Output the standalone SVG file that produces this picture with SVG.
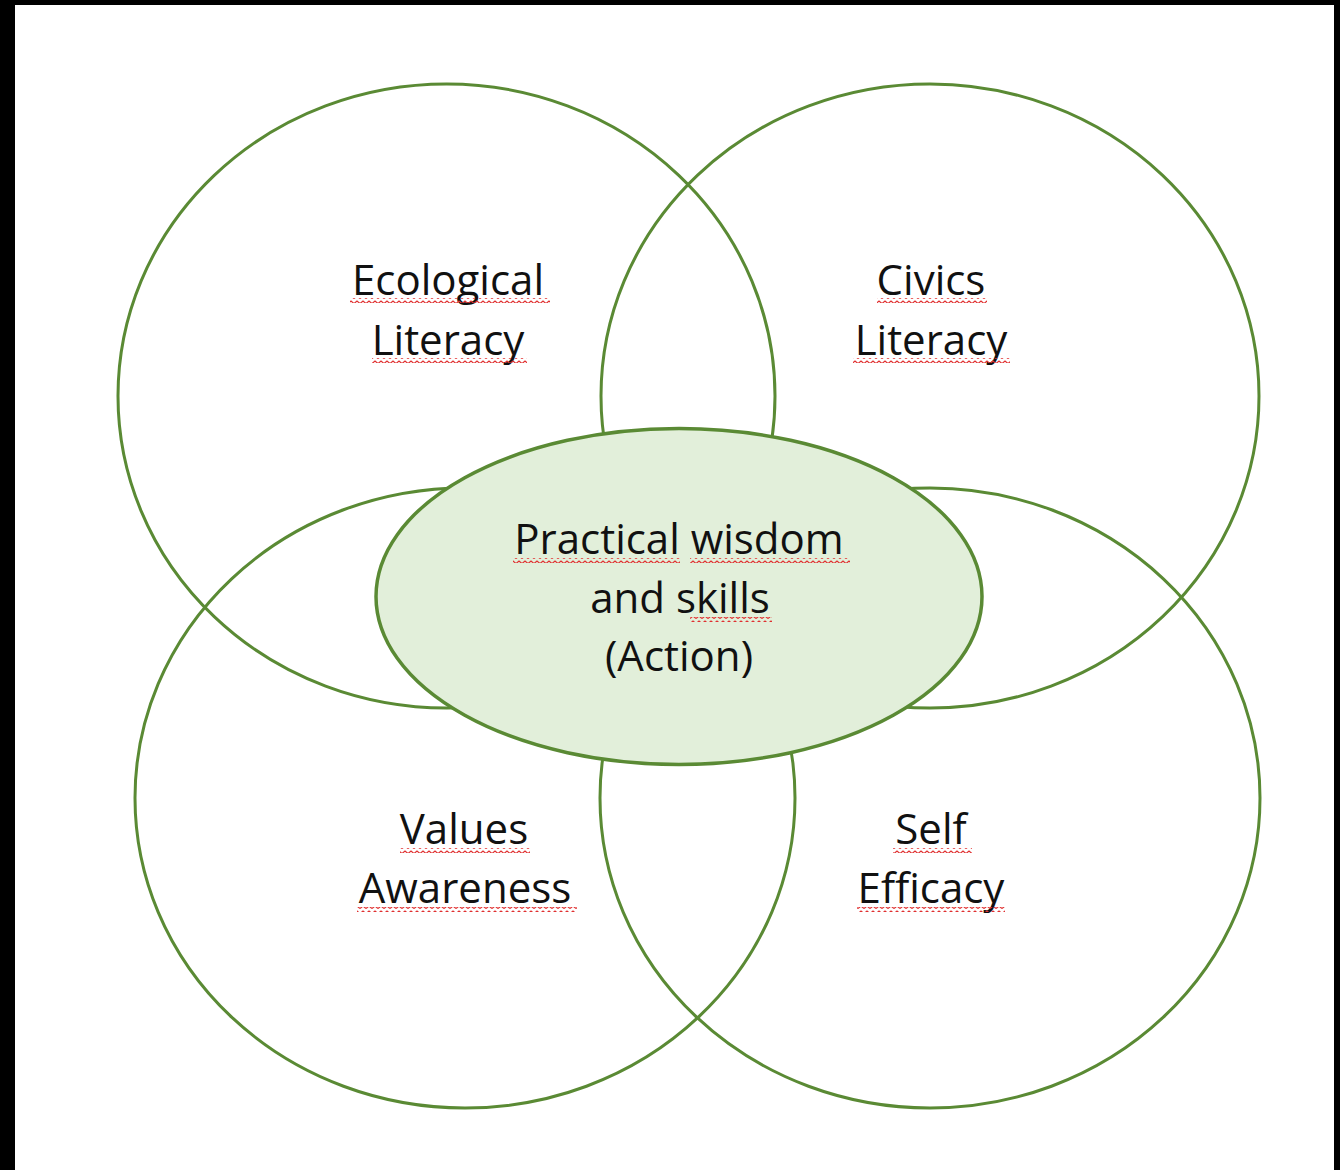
<svg xmlns="http://www.w3.org/2000/svg" width="1340" height="1170" viewBox="0 0 1340 1170">
<defs>
<style>
.ring{fill:none;stroke:#5A8A34;stroke-width:3}
.core{fill:#E2EFDA;stroke:#5A8A34;stroke-width:3.5}
.lbl{font-family:"Open Sans","Liberation Sans",sans-serif;font-size:42px;fill:#111;text-anchor:middle}
.sq{fill:url(#wave)}
</style>
<pattern id="wave" patternUnits="userSpaceOnUse" width="6" height="5">
<path d="M0 3.5 L3 1 L6 3.5" fill="none" stroke="#E03030" stroke-width="1.2"/>
</pattern>
</defs>
<rect x="0" y="0" width="1340" height="1170" fill="#000"/>
<rect x="15" y="5" width="1319" height="1165" fill="#fff"/>
<g id="connectors"></g>
<g id="ecological">
<ellipse class="ring" cx="446.5" cy="396" rx="328.5" ry="312"/>
<text class="lbl" x="448" y="295">Ecological</text>
<text class="lbl" x="448" y="355">Literacy</text>
<rect class="sq" x="350" y="298" width="200" height="5"/>
<rect class="sq" x="372" y="358" width="155" height="5"/>
</g>
<g id="civics">
<ellipse class="ring" cx="930" cy="396" rx="329" ry="312"/>
<text class="lbl" x="931" y="295">Civics</text>
<text class="lbl" x="931" y="355">Literacy</text>
<rect class="sq" x="877" y="298" width="110" height="5"/>
<rect class="sq" x="853" y="358" width="157" height="5"/>
</g>
<g id="values">
<ellipse class="ring" cx="465" cy="798" rx="330" ry="310"/>
<text class="lbl" x="464" y="844">Values</text>
<text class="lbl" x="465" y="903">Awareness</text>
<rect class="sq" x="400" y="848" width="130" height="5"/>
<rect class="sq" x="357" y="907" width="220" height="5"/>
</g>
<g id="self">
<ellipse class="ring" cx="930" cy="798" rx="330" ry="310"/>
<text class="lbl" x="931" y="844">Self</text>
<text class="lbl" x="931" y="903">Efficacy</text>
<rect class="sq" x="893" y="848" width="79" height="5"/>
<rect class="sq" x="857" y="907" width="148" height="5"/>
</g>
<g id="practical">
<ellipse class="core" cx="679" cy="596.5" rx="303" ry="168"/>
<text class="lbl" x="679" y="554">Practical wisdom</text>
<text class="lbl" x="680" y="613">and skills</text>
<text class="lbl" x="679" y="671">(Action)</text>
<rect class="sq" x="513" y="558" width="167" height="5"/>
<rect class="sq" x="690" y="558" width="160" height="5"/>
<rect class="sq" x="690" y="617" width="82" height="5"/>
</g>
</svg>
